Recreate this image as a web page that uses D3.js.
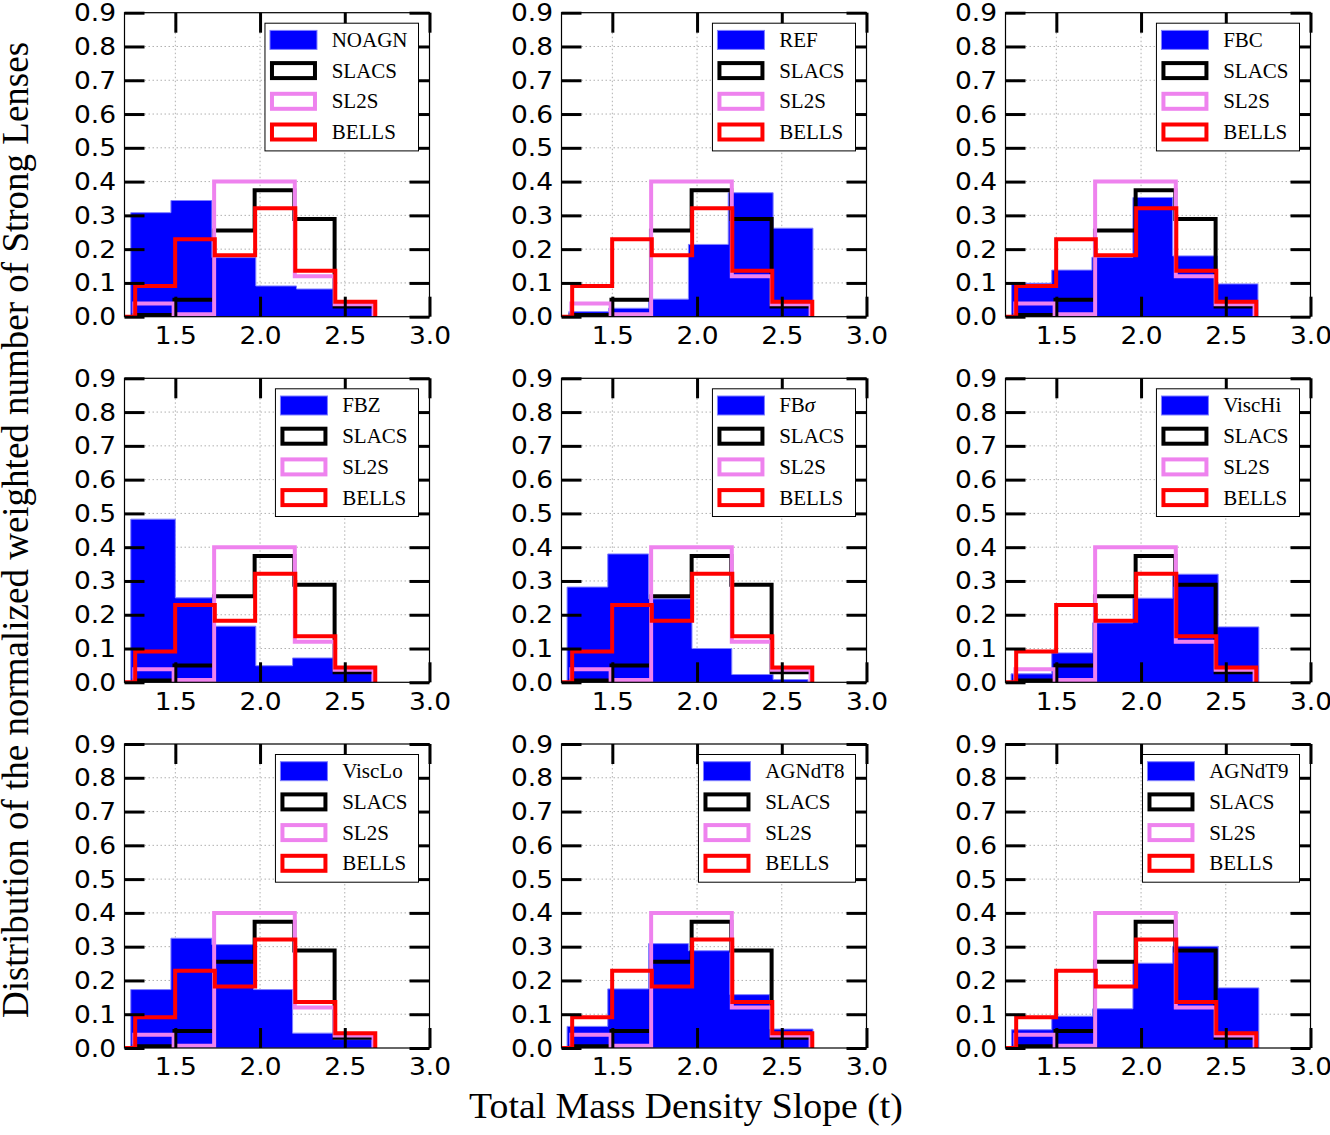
<!DOCTYPE html>
<html>
<head>
<meta charset="utf-8">
<script src="https://cdn.jsdelivr.net/npm/d3@7"></script>
<style>
  body { margin: 0; background: #fff; }
</style>
</head>
<body>
<svg id="chart" width="1330" height="1135"></svg>
<script>
// simulation names, one per panel
const simNames = ["NOAGN", "REF", "FBC", "FBZ", "FBσ", "ViscHi", "ViscLo", "AGNdT8", "AGNdT9"];

// bin edges of each simulation histogram
const simEdges = [
    [1.237, 1.474, 1.716, 1.975, 2.215, 2.444, 2.670],
    [1.243, 1.478, 1.714, 1.949, 2.184, 2.449, 2.684],
    [1.236, 1.473, 1.710, 1.952, 2.187, 2.449, 2.690],
    [1.237, 1.500, 1.726, 1.975, 2.192, 2.434, 2.661],
    [1.233, 1.473, 1.714, 1.970, 2.205, 2.449, 2.655],
    [1.233, 1.473, 1.715, 1.952, 2.187, 2.455, 2.695],
    [1.237, 1.474, 1.716, 1.962, 2.192, 2.434, 2.661],
    [1.233, 1.473, 1.714, 1.949, 2.194, 2.429, 2.684],
    [1.236, 1.473, 1.715, 1.952, 2.187, 2.455, 2.695]
];

// normalized weighted counts of each simulation
const simValues = [
    [0.308, 0.344, 0.175, 0.091, 0.082, 0.030],
    [0.015, 0.025, 0.052, 0.214, 0.367, 0.262],
    [0.099, 0.138, 0.176, 0.353, 0.180, 0.097],
    [0.483, 0.250, 0.166, 0.049, 0.072, 0.030],
    [0.282, 0.380, 0.247, 0.100, 0.023, 0.008],
    [0.025, 0.087, 0.176, 0.249, 0.320, 0.164],
    [0.173, 0.325, 0.306, 0.173, 0.044, 0.025],
    [0.064, 0.175, 0.309, 0.288, 0.158, 0.056],
    [0.054, 0.094, 0.116, 0.251, 0.301, 0.178]
];

// observed samples (same in every panel)
const slacsEdges = [1.255, 1.495, 1.728, 1.968, 2.202, 2.440, 2.675];
const slacsValues = [0.005, 0.050, 0.255, 0.374, 0.289, 0.030];

const sl2sEdges = [1.258, 1.490, 1.729, 1.964, 2.205, 2.440, 2.670];
const sl2sValues = [0.039, 0.007, 0.400, 0.400, 0.120, 0.037];

const bellsEdges = [1.027, 1.263, 1.499, 1.733, 1.971, 2.208, 2.444, 2.680];
const bellsValues = [0, 0.091, 0.229, 0.182, 0.321, 0.136, 0.044];

const xTicks = [1.5, 2.0, 2.5, 3.0];
const yTicks = [0.0, 0.1, 0.2, 0.3, 0.4, 0.5, 0.6, 0.7, 0.8, 0.9];

const colLeft = [124.5, 561.5, 1005.5];
const rowTop = [12.7, 378.3, 744];
const W = 305, H = 304;

const svg = d3.select("#chart");

const x = d3.scaleLinear().domain([1.2, 3.0]).range([0, W]);
const y = d3.scaleLinear().domain([0, 0.9]).range([H, 0]);

//阶梯线的点
function stepPoints(edges, values) {
    let pts = [[edges[0], 0]];
    values.forEach(function (v, i) {
        pts.push([edges[i], v]);
        pts.push([edges[i + 1], v]);
    });
    pts.push([edges[edges.length - 1], 0]);
    return pts;
}

const line = d3.line().x(d => x(d[0])).y(d => y(d[1]));

const observed = [
    {name: "SLACS", edges: slacsEdges, values: slacsValues, color: "#000000"},
    {name: "SL2S", edges: sl2sEdges, values: sl2sValues, color: "#ee82ee"},
    {name: "BELLS", edges: bellsEdges, values: bellsValues, color: "#ff0000"}
];

svg.append("defs").append("clipPath")
    .attr("id", "plotclip")
    .append("rect")
    .attr("width", W)
    .attr("height", H);

simNames.forEach(function (name, k) {
    const g = svg.append("g")
        .attr("transform", `translate(${colLeft[k % 3]},${rowTop[Math.floor(k / 3)]})`);

    // grid
    g.append("g").selectAll("line")
        .data(xTicks.filter(t => t < 3.0))
        .join("line")
        .attr("x1", d => x(d)).attr("x2", d => x(d))
        .attr("y1", 0).attr("y2", H)
        .attr("stroke", "#b0b0b0")
        .attr("stroke-dasharray", "1.5,2.5");

    g.append("g").selectAll("line")
        .data(yTicks.filter(t => t > 0 && t < 0.9))
        .join("line")
        .attr("x1", 0).attr("x2", W)
        .attr("y1", d => y(d)).attr("y2", d => y(d))
        .attr("stroke", "#b0b0b0")
        .attr("stroke-dasharray", "1.5,2.5");

    const plot = g.append("g").attr("clip-path", "url(#plotclip)");

    // simulation histogram (stepfilled)
    plot.append("path")
        .attr("d", line(stepPoints(simEdges[k], simValues[k])) + "Z")
        .attr("fill", "#0000ff")
        .attr("stroke", "#8080ff")
        .attr("stroke-width", 1);

    // observed step lines
    observed.forEach(function (s) {
        plot.append("path")
            .attr("d", line(stepPoints(s.edges, s.values)))
            .attr("fill", "none")
            .attr("stroke", s.color)
            .attr("stroke-width", 4)
            .attr("stroke-linejoin", "miter");
    });

    // frame
    g.append("rect")
        .attr("width", W)
        .attr("height", H)
        .attr("fill", "none")
        .attr("stroke", "#000")
        .attr("stroke-width", 1.2);

    // axes, ticks pointing inward
    const fmt = d3.format(".1f");
    const axes = [
        {ax: d3.axisLeft(y).tickValues(yTicks).tickFormat(fmt).tickPadding(8), tr: "translate(0,0)"},
        {ax: d3.axisRight(y).tickValues(yTicks).tickFormat(""), tr: `translate(${W},0)`},
        {ax: d3.axisBottom(x).tickValues(xTicks).tickFormat(fmt).tickPadding(9.5), tr: `translate(0,${H})`},
        {ax: d3.axisTop(x).tickValues(xTicks).tickFormat(""), tr: "translate(0,0)"}
    ];
    axes.forEach(function (a) {
        const ag = g.append("g")
            .attr("transform", a.tr)
            .call(a.ax.tickSize(-20));
        ag.select(".domain").remove();
        ag.selectAll(".tick line")
            .attr("stroke", "#000")
            .attr("stroke-width", 3);
        ag.selectAll(".tick text")
            .attr("fill", "#000")
            .attr("transform", "scale(1.06,1)")
            .style("font-family", "'DejaVu Sans', sans-serif")
            .style("font-size", "25px");
    });

    // legend
    const leg = g.append("g");
    const box = leg.append("rect")
        .attr("fill", "#fff")
        .attr("stroke", "#000")
        .attr("stroke-width", 1);

    const entries = [{name: name, sim: true}].concat(observed.map(s => ({name: s.name, color: s.color})));
    let maxLen = 0;
    entries.forEach(function (e, i) {
        const cy = 16.7 + i * 30.7;
        if (e.sim) {
            leg.append("rect")
                .attr("x", 5).attr("y", cy - 9.5)
                .attr("width", 47).attr("height", 19)
                .attr("fill", "#0000ff")
                .attr("stroke", "#8080ff")
                .attr("stroke-width", 1);
        } else {
            leg.append("rect")
                .attr("x", 7).attr("y", cy - 7.5)
                .attr("width", 43).attr("height", 15)
                .attr("fill", "none")
                .attr("stroke", e.color)
                .attr("stroke-width", 4);
        }
        const t = leg.append("text")
            .attr("x", 66.7)
            .attr("y", cy + 7)
            .style("font-family", "'Liberation Serif', serif")
            .style("font-size", "21px")
            .attr("fill", "#000");
        if (e.name === "FBσ") {
            t.append("tspan").text("FB");
            t.append("tspan").style("font-style", "italic").text("σ");
        } else {
            t.text(e.name);
        }
        maxLen = Math.max(maxLen, t.node().getComputedTextLength());
    });
    const boxW = 66.7 + maxLen + 11;
    box.attr("width", boxW).attr("height", 127.7);
    leg.attr("transform", `translate(${W - 11 - boxW},10.5)`);
});

// axis titles
svg.append("text")
    .attr("transform", "translate(686,1118) scale(1.08,1)")
    .attr("text-anchor", "middle")
    .style("font-family", "'Liberation Serif', serif")
    .style("font-size", "35px")
    .text("Total Mass Density Slope (t)");

svg.append("text")
    .attr("transform", "translate(28,530) rotate(-90)")
    .attr("text-anchor", "middle")
    .style("font-family", "'Liberation Serif', serif")
    .style("font-size", "37px")
    .text("Distribution of the normalized weighted number of Strong Lenses");
</script>
</body>
</html>
